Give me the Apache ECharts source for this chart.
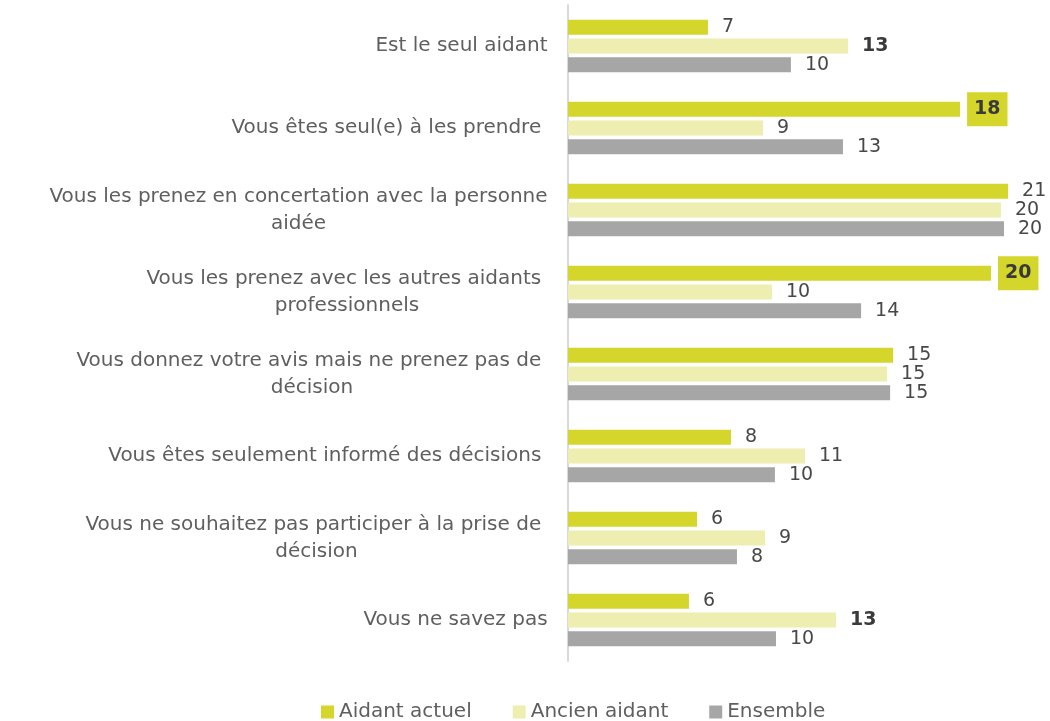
<!DOCTYPE html>
<html>
<head>
<meta charset="utf-8">
<script src="https://cdn.jsdelivr.net/npm/echarts@6/dist/echarts.min.js"></script>
<style>
html,body{margin:0;padding:0;background:#fff;}
#chart{width:1050px;height:721px;}
</style>
</head>
<body>
<div id="chart"></div>
<script>
const categories = [
  "Est le seul aidant",
  "Vous êtes seul(e) à les prendre ",
  "Vous les prenez en concertation avec la personne\naidée",
  "Vous les prenez avec les autres aidants \nprofessionnels",
  "Vous donnez votre avis mais ne prenez pas de \ndécision",
  "Vous êtes seulement informé des décisions ",
  "Vous ne souhaitez pas participer à la prise de \ndécision",
  "Vous ne savez pas"
];
const seriesNames = ["Aidant actuel", "Ancien aidant", "Ensemble"];
const aidantActuel = [6.56, 18.38, 20.63, 19.83, 15.24, 7.64, 6.05, 5.67];
const ancienAidant = [13.13, 9.14, 20.30, 9.56, 14.96, 11.11, 9.24, 12.56];
const ensemble     = [10.45, 12.89, 20.44, 13.74, 15.10, 9.70, 7.92, 9.75];
// significance highlights (category indices)
const boxedAidant = [1, 3];
const boldAncien = [0, 7];

const FONT = '"DejaVu Sans", sans-serif';
const FS = 20;
const LFS = 19;
const colors = ['#d4d62c', '#eeeeb0', '#a6a6a6'];

const ctx = document.createElement('canvas').getContext('2d');
ctx.font = FS + 'px ' + FONT;
const rich = {};
categories.forEach((c, i) => {
  const w = Math.max(...c.split('\n').map(l => ctx.measureText(l).width));
  rich['l' + i] = { width: Math.ceil(w), align: 'center', fontSize: FS, fontFamily: FONT, color: '#5f5f5f', lineHeight: 27 };
});

function build(vals, boxed, bold) {
  return vals.map((v, i) => {
    if (boxed.includes(i)) {
      return { value: v, label: { fontWeight: 'bold', color: '#3a3a3a', backgroundColor: colors[0], padding: [8, 7, 7, 7], distance: 7 } };
    }
    if (bold.includes(i)) {
      return { value: v, label: { fontWeight: 'bold', color: '#3a3a3a' } };
    }
    return v;
  });
}

const labelBase = {
  show: true, position: 'right', distance: 14,
  fontFamily: FONT, fontSize: LFS, color: '#484848',
  formatter: p => String(Math.round(p.value))
};

const chart = echarts.init(document.getElementById('chart'));
chart.setOption({
  animation: false,
  textStyle: { fontFamily: FONT },
  grid: { left: 568, right: 12.7, top: 5, bottom: 60, containLabel: false },
  xAxis: { type: 'value', min: 0, max: 22, show: false },
  yAxis: {
    type: 'category', inverse: true, data: categories,
    axisLine: { lineStyle: { color: '#d9d9d9', width: 2 } },
    axisTick: { show: false },
    axisLabel: {
      margin: 20, align: 'right',
      formatter: (v, i) => v.split('\n').map(l => '{l' + i + '|' + l + '}').join('\n'),
      rich: rich
    }
  },
  legend: {
    bottom: -6, left: 316, icon: 'rect', itemWidth: 13, itemHeight: 13, itemGap: 41,
    textStyle: { fontSize: FS, fontFamily: FONT, color: '#5f5f5f' },
    data: seriesNames
  },
  series: [
    { name: seriesNames[0], type: 'bar', data: build(aidantActuel, boxedAidant, []), barWidth: 15, barGap: '25%', itemStyle: { color: colors[0] }, label: labelBase },
    { name: seriesNames[1], type: 'bar', data: build(ancienAidant, [], boldAncien), barWidth: 15, barGap: '25%', itemStyle: { color: colors[1] }, label: labelBase },
    { name: seriesNames[2], type: 'bar', data: build(ensemble, [], []), barWidth: 15, barGap: '25%', itemStyle: { color: colors[2] }, label: labelBase }
  ]
});
</script>
</body>
</html>
